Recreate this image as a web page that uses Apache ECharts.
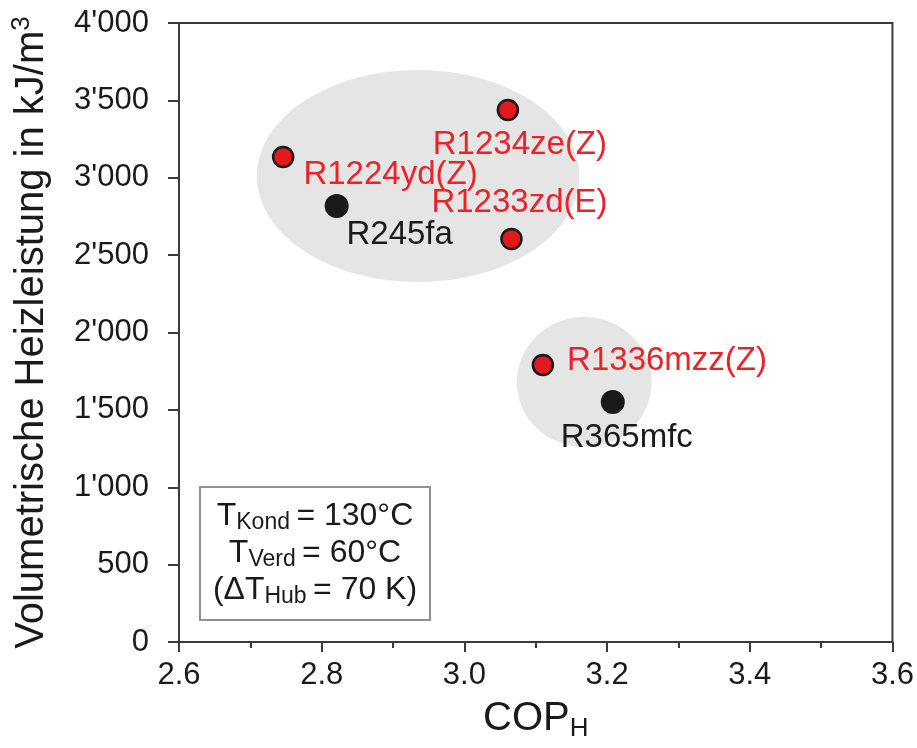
<!DOCTYPE html>
<html>
<head>
<meta charset="utf-8">
<script src="https://cdn.jsdelivr.net/npm/echarts@6/dist/echarts.min.js"></script>
<style>
html,body{margin:0;padding:0;background:#fff;}
#chart{width:917px;height:748px;}
</style>
</head>
<body>
<div id="chart"></div>
<script>
// ---- data ----
const newNames = ['R1224yd(Z)', 'R1234ze(Z)', 'R1233zd(E)', 'R1336mzz(Z)'];
const newCop   = [2.746, 3.061, 3.066, 3.110];
const newVhc   = [3134, 3438, 2604, 1790];

const refNames = ['R245fa', 'R365mfc'];
const refCop   = [2.821, 3.208];
const refVhc   = [2817, 1551];

// grey cluster ellipses (centre and half-axes, in data units)
const clusterCx = [2.935, 3.168];
const clusterCy = [3011, 1680];
const clusterRx = [0.226, 0.0945];
const clusterRy = [685, 420];

const xTicks = [2.6, 2.8, 3.0, 3.2, 3.4, 3.6];
const yTicks = [0, 500, 1000, 1500, 2000, 2500, 3000, 3500, 4000];

// ---- styling ----
const FONT = '"Liberation Sans", Arial, sans-serif';
const RED = '#e3191f';
const RED_TXT = '#e8242a';
const BLACK = '#1a1a1a';
const AXIS = '#3a3a3a';

const labelPlace = {
  'R1224yd(Z)':  { position: 'right',  offset: [4, 18] },
  'R1234ze(Z)':  { position: 'bottom', offset: [12, 2] },
  'R1233zd(E)':  { position: 'top',    offset: [8, -3] },
  'R1336mzz(Z)': { position: 'right',  offset: [8, -4] },
  'R245fa':      { position: 'bottom', offset: [63, -5] },
  'R365mfc':     { position: 'bottom', offset: [14, 2] }
};

function pts(names, xs, ys, color) {
  return names.map((n, i) => ({
    name: n,
    value: [xs[i], ys[i]],
    label: {
      show: true,
      formatter: n,
      position: labelPlace[n].position,
      offset: labelPlace[n].offset,
      distance: 5,
      color: color,
      fontSize: 33,
      fontFamily: FONT
    }
  }));
}

const ellipseData = clusterCx.map((c, i) => [c, clusterCy[i], clusterRx[i], clusterRy[i]]);

function fmtY(v) {
  if (v >= 1000) {
    const t = Math.floor(v / 1000);
    const r = String(v % 1000).padStart(3, '0');
    return t + "'" + r;
  }
  return String(v);
}

const chart = echarts.init(document.getElementById('chart'), null, { renderer: 'canvas' });

const option = {
  animation: false,
  backgroundColor: '#ffffff',
  grid: {
    left: 179, right: 24, top: 23, bottom: 106,
    show: true, borderColor: AXIS, borderWidth: 2, backgroundColor: 'transparent'
  },
  xAxis: {
    type: 'value',
    min: xTicks[0], max: xTicks[xTicks.length - 1], interval: 0.2,
    name: 'COP{sub|H}',
    nameLocation: 'middle',
    nameGap: 51,
    nameTextStyle: {
      fontSize: 40, fontFamily: FONT, color: BLACK, lineHeight: 46,
      rich: { sub: { fontSize: 26, fontFamily: FONT, color: BLACK, lineHeight: 14, verticalAlign: 'bottom' } }
    },
    axisLine: { show: true, onZero: false, lineStyle: { color: AXIS, width: 2 } },
    axisTick: { show: true, inside: false, length: 10, lineStyle: { color: AXIS, width: 2 } },
    minorTick: { show: true, splitNumber: 2, length: 6, lineStyle: { color: AXIS, width: 2 } },
    splitLine: { show: false },
    minorSplitLine: { show: false },
    axisLabel: {
      margin: 18, fontSize: 31, fontFamily: FONT, color: BLACK,
      formatter: v => Number(v).toFixed(1)
    }
  },
  yAxis: {
    type: 'value',
    min: yTicks[0], max: yTicks[yTicks.length - 1], interval: 500,
    name: 'Volumetrische Heizleistung in kJ/m{sup|3}',
    nameLocation: 'middle',
    nameGap: 124,
    nameTextStyle: {
      fontSize: 40, fontFamily: FONT, color: BLACK, lineHeight: 46,
      rich: { sup: { fontSize: 26, fontFamily: FONT, color: BLACK, lineHeight: 14, verticalAlign: 'top' } }
    },
    axisLine: { show: true, onZero: false, lineStyle: { color: AXIS, width: 2 } },
    axisTick: { show: true, inside: false, length: 11, lineStyle: { color: AXIS, width: 2 } },
    splitLine: { show: false },
    axisLabel: {
      margin: 30, fontSize: 31, fontFamily: FONT, color: BLACK,
      formatter: v => fmtY(v)
    }
  },
  graphic: [
    {
      type: 'group',
      left: 199, top: 486,
      children: [
        { type: 'rect', shape: { x: 0, y: 0, width: 230, height: 133 },
          style: { fill: '#ffffff', stroke: '#8f8f8f', lineWidth: 2 } },
        { type: 'text', x: 115, y: 66,
          style: {
            text: 'T{sub|Kond }= 130°C\nT{sub|Verd }= 60°C\n(ΔT{sub|Hub }= 70 K)',
            font: '32px ' + FONT,
            fill: BLACK,
            align: 'center', verticalAlign: 'middle',
            lineHeight: 37,
            rich: {
              sub: { fontSize: 23, fontFamily: FONT, fill: BLACK, lineHeight: 12, verticalAlign: 'bottom' }
            }
          } }
      ]
    }
  ],
  series: [
    {
      type: 'custom',
      name: 'cluster',
      z: 1,
      silent: true,
      data: ellipseData,
      renderItem: function (params, api) {
        const c = api.coord([api.value(0), api.value(1)]);
        const s = api.size([api.value(2), api.value(3)]);
        return {
          type: 'circle',
          x: c[0], y: c[1],
          scaleX: 1, scaleY: s[1] / s[0],
          shape: { cx: 0, cy: 0, r: s[0] },
          style: { fill: '#e5e5e5' }
        };
      }
    },
    {
      type: 'scatter',
      name: 'neu',
      z: 3,
      symbol: 'circle',
      symbolSize: 20,
      itemStyle: { color: RED, borderColor: BLACK, borderWidth: 2.5, opacity: 1 },
      data: pts(newNames, newCop, newVhc, RED_TXT)
    },
    {
      type: 'scatter',
      name: 'alt',
      z: 3,
      symbol: 'circle',
      symbolSize: 24,
      itemStyle: { color: BLACK, opacity: 1 },
      data: pts(refNames, refCop, refVhc, BLACK)
    }
  ]
};

chart.setOption(option);
</script>
</body>
</html>
